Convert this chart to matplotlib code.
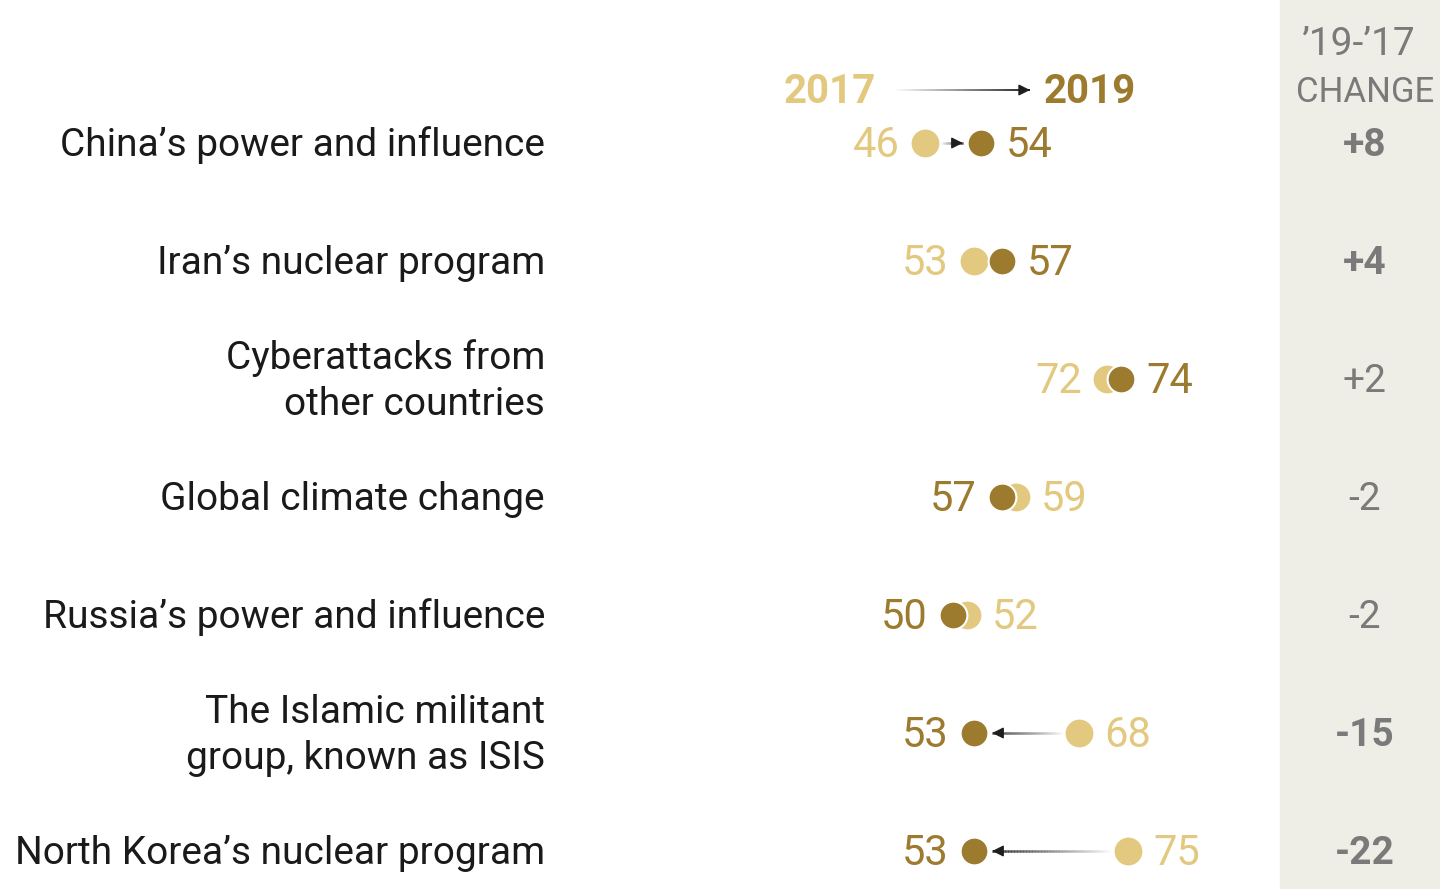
import numpy as np
import matplotlib.pyplot as plt
from matplotlib.collections import LineCollection

plt.rcParams['font.family'] = ['Roboto', 'DejaVu Sans']

# ---- data ----
topics = ["China\u2019s power and influence",
          "Iran\u2019s nuclear program",
          "Cyberattacks from\nother countries",
          "Global climate change",
          "Russia\u2019s power and influence",
          "The Islamic militant\ngroup, known as ISIS",
          "North Korea\u2019s nuclear program"]
vals_2017 = [46, 53, 72, 59, 52, 68, 75]
vals_2019 = [54, 57, 74, 57, 50, 53, 53]
significant = [True, True, False, False, False, True, True]

c17 = '#E2C97F'
c19 = '#9C7A2E'
grey_txt = '#7A7A7A'
panel = '#EFEEE6'

# pixel -> data helper (x scale: 7 px per point, 46 sits at px 925)
def px(p):
    return 46 + (p - 925) / 7.0

fig = plt.figure(figsize=(14.4, 8.89), dpi=100)
ax = fig.add_axes([0, 0, 1, 1])
ax.set_xlim(px(0), px(1440))
ax.set_ylim(6.322, -1.212)
ax.axis('off')

ax.axvspan(px(1280), px(1440), color=panel, zorder=0)


def grad_arrow(xa, xb, y, n=80, lw=1.8):
    xs = np.linspace(xa, xb, n + 1)
    segs = [[(xs[i], y), (xs[i + 1], y)] for i in range(n)]
    alphas = np.linspace(0.0, 1.0, n)
    cols = [(0.12, 0.12, 0.12, a) for a in alphas]
    ax.add_collection(LineCollection(segs, colors=cols, linewidths=lw,
                                     capstyle='butt', zorder=2))
    d = np.sign(xb - xa) * 0.6
    ax.annotate('', xy=(xb, y), xytext=(xb - d, y),
                arrowprops=dict(arrowstyle='-|>', color='#1e1e1e',
                                mutation_scale=17, lw=1.0,
                                shrinkA=0, shrinkB=0), zorder=3)


fs = 28
dy = 0.02
for i, (t, a, b, sig) in enumerate(zip(topics, vals_2017, vals_2019, significant)):
    ax.text(px(545), i + dy, t, ha='right', va='center', fontsize=fs,
            color='#1a1a1a', linespacing=1.3)
    diff = b - a
    if abs(diff) >= 8:
        s = np.sign(diff)
        grad_arrow(a + s * 2.2, b - s * 2.6, i)
    ax.scatter([a], [i], s=400, color=c17, zorder=4, linewidths=0)
    ax.scatter([b], [i], s=400, color=c19, zorder=5,
               edgecolors='white', linewidths=1.5)
    # value labels outside the pair
    lo, hi = min(a, b), max(a, b)
    lo_c = c17 if a < b else c19
    hi_c = c19 if a < b else c17
    ax.text(lo - 3.6, i + dy, str(lo), ha='right', va='center', fontsize=fs + 2,
            color=lo_c)
    ax.text(hi + 3.6, i + dy, str(hi), ha='left', va='center', fontsize=fs + 2,
            color=hi_c)
    ax.text(px(1365), i + dy, f'{diff:+d}', ha='center', va='center',
            fontsize=fs, color=grey_txt,
            fontweight='bold' if sig else 'normal')

# header
hy = (90 - 143) / 118.0
ax.text(px(830), hy + dy, '2017', ha='center', va='center', fontsize=fs + 1,
        fontweight='bold', color=c17)
ax.text(px(1090), hy + dy, '2019', ha='center', va='center', fontsize=fs + 1,
        fontweight='bold', color=c19)
grad_arrow(px(893), px(1030), hy, lw=1.4)

ax.text(px(1358), (44 - 143) / 118.0, '\u201919-\u201917', ha='center',
        va='center', fontsize=fs, color=grey_txt)
ax.text(px(1365), hy + dy, 'CHANGE', ha='center', va='center', fontsize=fs - 3,
        color=grey_txt)

plt.savefig('out.png', dpi=100)
